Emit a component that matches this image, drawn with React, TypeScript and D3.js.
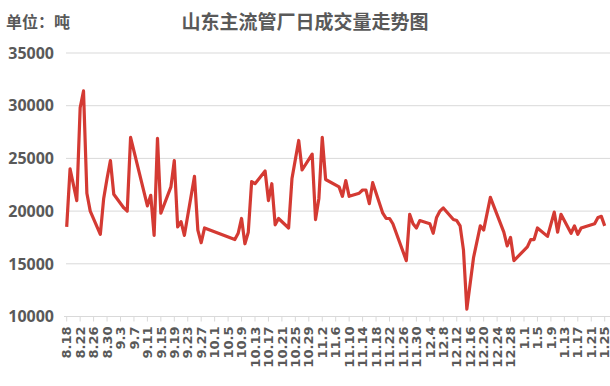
import React from 'react';
import * as d3 from 'd3';

const dates = ['8.18','8.19','8.21','8.22','8.23','8.24','8.25','8.28','8.29','8.30','8.31','9.1','9.4','9.5','9.6','9.11','9.12','9.13','9.14','9.15','9.18','9.19','9.20','9.21','9.22','9.25','9.26','9.27','9.28','10.7','10.8','10.9','10.10','10.11','10.12','10.13','10.16','10.17','10.18','10.19','10.20','10.23','10.24','10.26','10.27','10.30','10.31','11.1','11.2','11.3','11.7','11.8','11.9','11.10','11.13','11.14','11.15','11.16','11.17','11.20','11.21','11.22','11.23','11.27','11.28','11.29','11.30','12.1','12.4','12.5','12.6','12.7','12.8','12.11','12.12','12.13','12.14','12.15','12.17','12.19','12.20','12.22','12.26','12.27','12.28','12.29','1.2','1.3','1.4','1.5','1.8','1.10','1.11','1.12','1.15','1.16','1.17','1.18','1.22','1.23','1.24','1.25'];
const volumes = [18500,24000,21000,29800,31400,21700,20000,17800,21200,23100,24800,21600,20300,20000,27000,20500,21500,17700,26900,19800,22300,24800,18500,19000,17700,23300,18200,17000,18400,17300,17900,19300,16900,18000,22800,22600,23800,21000,22600,18700,19300,18400,23100,26700,23900,25400,19200,21200,27000,23000,22300,21400,22900,21400,21700,22000,22000,20700,22700,19800,19300,19300,18800,15300,19700,18800,18400,19100,18800,17900,19400,20000,20300,19200,19100,18600,16300,10700,15600,18600,18200,21300,18000,16700,17500,15300,16600,17300,17300,18400,17600,19900,18000,19700,17900,18600,17800,18400,18800,19400,19500,18600];
const tickLabels = ['8.18','8.22','8.26','8.30','9.3','9.7','9.11','9.15','9.19','9.23','9.27','10.1','10.5','10.9','10.13','10.17','10.21','10.25','10.29','11.2','11.6','11.10','11.14','11.18','11.22','11.26','11.30','12.4','12.8','12.12','12.16','12.20','12.24','12.28','1.1','1.5','1.9','1.13','1.17','1.21','1.25'];
const yTicks = [10000,15000,20000,25000,30000,35000];
const title = '山东主流管厂日成交量走势图';
const unitLabel = '单位：吨';

const parse = (s: string) => {
  const [m, d] = s.split('.').map(Number);
  return new Date(Date.UTC(m >= 8 ? 2021 : 2022, m - 1, d));
};

export default function App() {
  const W = 610, H = 386;
  const x = d3.scaleUtc().domain([parse('8.18'), parse('1.25')]).range([66.7, 604.7]);
  const y = d3.scaleLinear().domain([10000, 35000]).range([316.5, 53]);
  const pts = dates.map((d, i) => [x(parse(d)), y(volumes[i])] as [number, number]);
  const line = d3.line().curve(d3.curveLinear)(pts) || '';
  const txt = '#595959';
  const xfont = '"DejaVu Sans", sans-serif';
  const yfont = '"Open Sans", sans-serif';
  return (
    <svg width={W} height={H} style={{ position: 'absolute', left: 0, top: 0, background: '#fff' }}>
      <rect x={0} y={0} width={W} height={H} fill="#fff" />
      <text x={6} y={28} fontFamily='"Noto Sans CJK SC", sans-serif' fontWeight="bold" fontSize={16} fill={txt}>{unitLabel}</text>
      <text x={305} y={29} textAnchor="middle" fontFamily='"Noto Sans CJK SC", sans-serif' fontWeight="bold" fontSize={19} fill={txt}>{title}</text>
      {yTicks.map(t => (
        <g key={t}>
          {t > 10000 && <line x1={66} x2={610} y1={y(t)} y2={y(t)} stroke="#d9d9d9" strokeWidth={1} />}
          <text x={54} y={y(t)} dy="0.36em" textAnchor="end" fontFamily={yfont} fontWeight="bold" fontSize={16} fill={txt}>{t}</text>
        </g>
      ))}
      <line x1={64} x2={610} y1={y(10000)} y2={y(10000)} stroke="#d9d9d9" strokeWidth={1} />
      {tickLabels.map(l => {
        const tx = x(parse(l));
        return (
          <g key={l}>
            <line x1={tx} x2={tx} y1={y(10000)} y2={y(10000) + 5} stroke="#d9d9d9" strokeWidth={1} />
            <text transform={`translate(${tx},${y(10000) + 10}) rotate(-90)`} dy="0.36em" textAnchor="end" fontFamily={xfont} fontWeight="bold" fontSize={13} fill={txt}>{l}</text>
          </g>
        );
      })}
      <path d={line} fill="none" stroke="#d43a33" strokeWidth={3.2} strokeLinejoin="round" />
    </svg>
  );
}
